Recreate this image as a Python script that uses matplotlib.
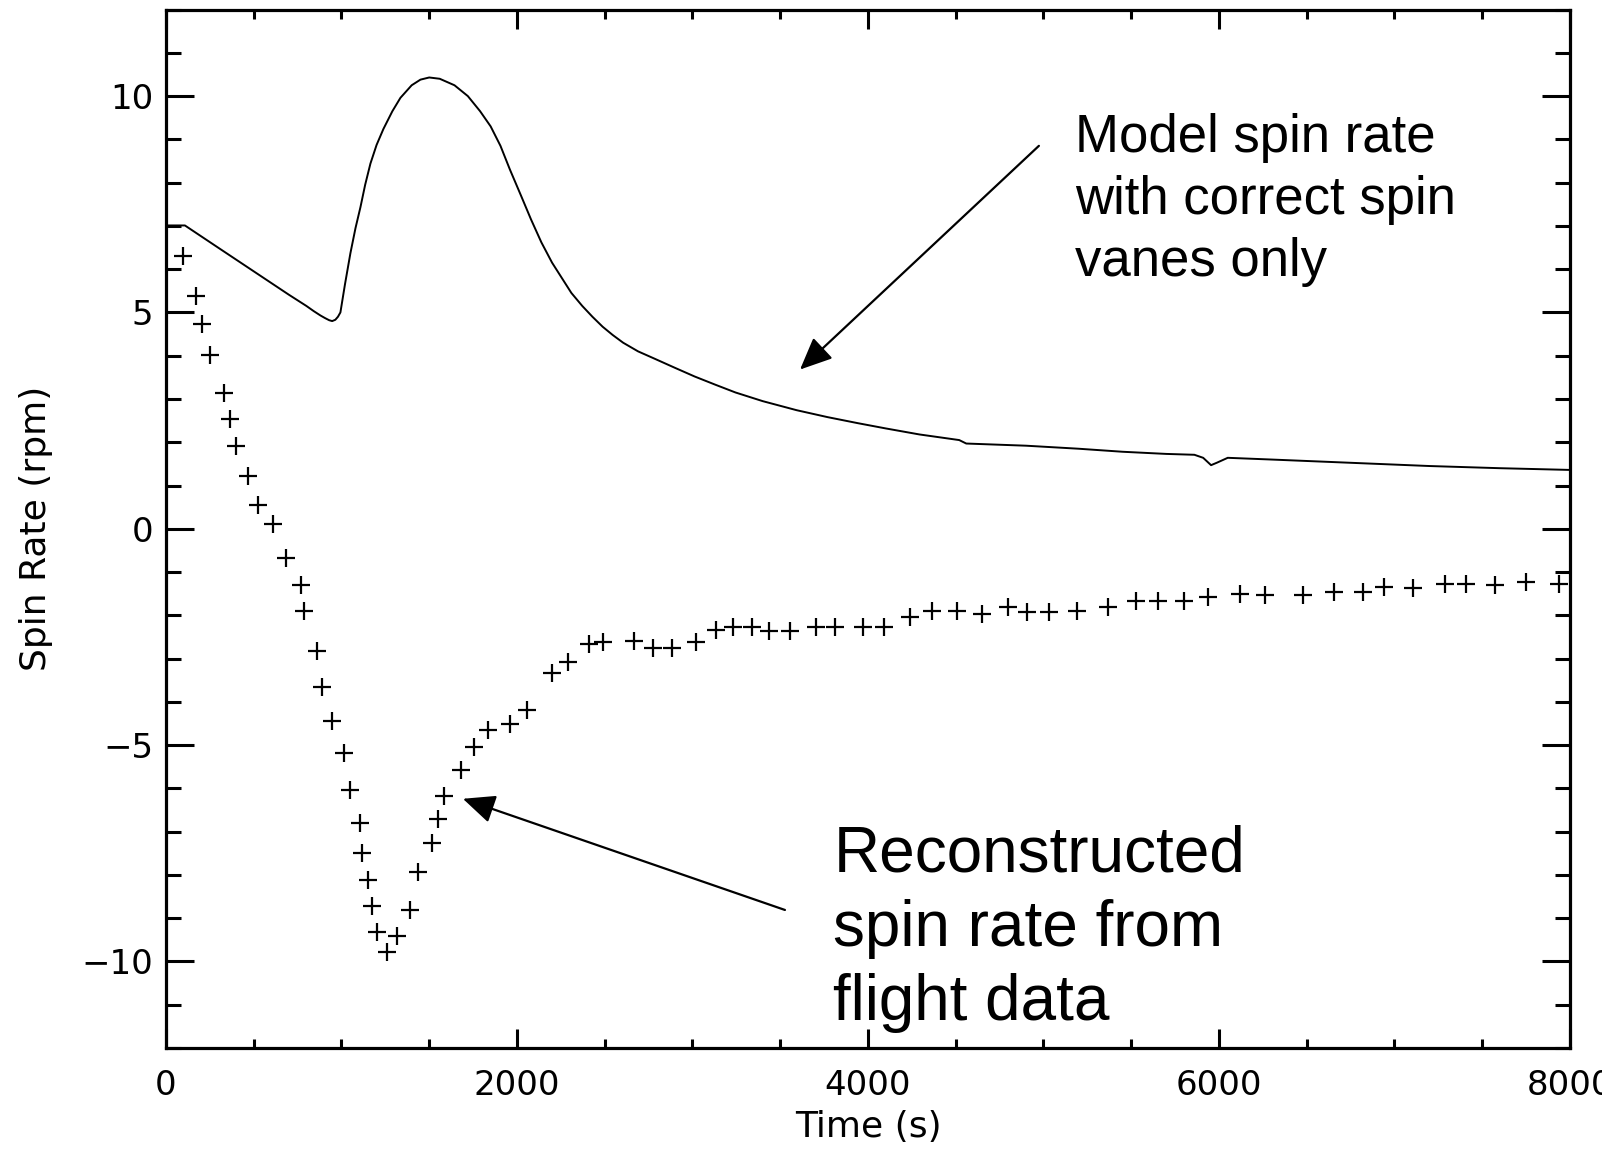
"""Spin rate: model vs flight reconstruction."""
import matplotlib
matplotlib.use("Agg")
import matplotlib.pyplot as plt
from matplotlib.ticker import MultipleLocator

# model spin rate (correct spin vanes only)
model_t = [0, 108, 300, 500, 700, 800, 842, 880, 906, 930, 947, 965, 980, 994, 1020,
           1051, 1080, 1108, 1135, 1165, 1200, 1239, 1290, 1336, 1400, 1450, 1500,
           1560, 1644, 1720, 1790, 1850, 1906, 1960, 2023, 2080, 2139, 2200, 2255,
           2310, 2372, 2430, 2488, 2545, 2605, 2690, 2779, 2900, 3012, 3130, 3245,
           3400, 3594, 3770, 3943, 4100, 4293, 4520, 4560, 4900, 5200, 5450, 5700,
           5860, 5910, 5955, 5990, 6050, 6300, 6600, 6900, 7200, 7600, 8000]
model_rpm = [7.01, 7.01, 6.49, 5.95, 5.41, 5.15, 5.03, 4.93, 4.87, 4.82, 4.80, 4.83,
             4.90, 5.00, 5.65, 6.37, 6.95, 7.43, 7.95, 8.44, 8.87, 9.24, 9.65, 9.96,
             10.25, 10.38, 10.43, 10.40, 10.25, 10.00, 9.65, 9.30, 8.85, 8.30, 7.70,
             7.15, 6.62, 6.15, 5.80, 5.45, 5.15, 4.90, 4.67, 4.48, 4.30, 4.10, 3.94,
             3.72, 3.52, 3.33, 3.15, 2.95, 2.74, 2.58, 2.44, 2.32, 2.18, 2.05, 1.97,
             1.92, 1.85, 1.78, 1.73, 1.71, 1.64, 1.47, 1.53, 1.64, 1.60, 1.55, 1.50,
             1.45, 1.40, 1.36]

# reconstructed spin rate from flight data
flight_t = [95, 171, 203, 251, 330, 365, 399, 465, 522, 611, 684, 769, 784, 859, 891,
            944, 1016, 1048, 1105, 1119, 1149, 1172, 1204, 1261, 1314, 1390, 1438,
            1514, 1552, 1586, 1679, 1757, 1837, 1960, 2055, 2198, 2292, 2412, 2488,
            2667, 2777, 2885, 3020, 3134, 3232, 3341, 3438, 3556, 3704, 3812, 3970,
            4091, 4239, 4367, 4505, 4651, 4800, 4904, 5031, 5189, 5369, 5527, 5654,
            5802, 5939, 6120, 6262, 6477, 6657, 6819, 6942, 7104, 7288, 7407, 7573,
            7749, 7939]
flight_rpm = [6.30, 5.37, 4.73, 4.01, 3.13, 2.54, 1.92, 1.23, 0.56, 0.10, -0.68,
              -1.29, -1.91, -2.82, -3.65, -4.45, -5.18, -6.04, -6.80, -7.49, -8.12,
              -8.72, -9.33, -9.77, -9.41, -8.81, -7.94, -7.26, -6.71, -6.18, -5.58,
              -5.04, -4.66, -4.51, -4.20, -3.34, -3.07, -2.66, -2.61, -2.59, -2.75,
              -2.75, -2.61, -2.35, -2.27, -2.27, -2.36, -2.36, -2.27, -2.27, -2.27,
              -2.27, -2.05, -1.90, -1.90, -1.98, -1.81, -1.92, -1.92, -1.90, -1.81,
              -1.67, -1.67, -1.67, -1.58, -1.51, -1.52, -1.52, -1.45, -1.45, -1.35,
              -1.37, -1.28, -1.28, -1.29, -1.23, -1.28]


def main():
    fig = plt.figure(figsize=(16.02, 11.5), dpi=100)
    ax = fig.add_axes([0.1036, 0.0887, 0.8764, 0.903])

    ax.plot(model_t, model_rpm, color="black", lw=1.4)
    ax.plot(flight_t, flight_rpm, ls="none", marker="+", ms=13, mew=1.6,
            color="black")

    ax.set_xlim(0, 8000)
    ax.set_ylim(-12, 12)
    ax.xaxis.set_major_locator(MultipleLocator(2000))
    ax.xaxis.set_minor_locator(MultipleLocator(500))
    ax.yaxis.set_major_locator(MultipleLocator(5))
    ax.yaxis.set_minor_locator(MultipleLocator(1))

    for s in ax.spines.values():
        s.set_linewidth(2.3)
    ax.tick_params(axis="both", which="both", direction="in", top=True,
                   right=True, width=2.2, labelsize=24.5, colors="black")
    ax.tick_params(axis="x", which="major", length=14, pad=15)
    ax.tick_params(axis="x", which="minor", length=6.5)
    ax.tick_params(axis="y", which="major", length=20, pad=9)
    ax.tick_params(axis="y", which="minor", length=11)

    ax.set_xlabel("Time (s)", fontsize=26, labelpad=6)
    ax.set_ylabel("Spin Rate (rpm)", fontsize=26, labelpad=21)

    arrow = dict(arrowstyle="-|>,head_length=0.9,head_width=0.4",
                 mutation_scale=22, lw=1.6, color="black", shrinkA=0, shrinkB=0)
    ax.annotate("", xy=(3613, 3.68), xytext=(4974, 8.85), arrowprops=arrow)
    ax.annotate("", xy=(1692, -6.24), xytext=(3527, -8.81), arrowprops=arrow)

    # anchor sits on the baseline of the last line
    ax.text(5179, 5.84, "Model spin rate\nwith correct spin\nvanes only",
            family="Liberation Sans", fontsize=38, ha="left", va="baseline",
            linespacing=1.31)
    ax.text(3803, -11.36, "Reconstructed\nspin rate from\nflight data",
            family="Liberation Sans", fontsize=46, ha="left", va="baseline",
            linespacing=1.31)

    fig.savefig("out.png", dpi=100)
    plt.close(fig)


if __name__ == "__main__":
    main()
